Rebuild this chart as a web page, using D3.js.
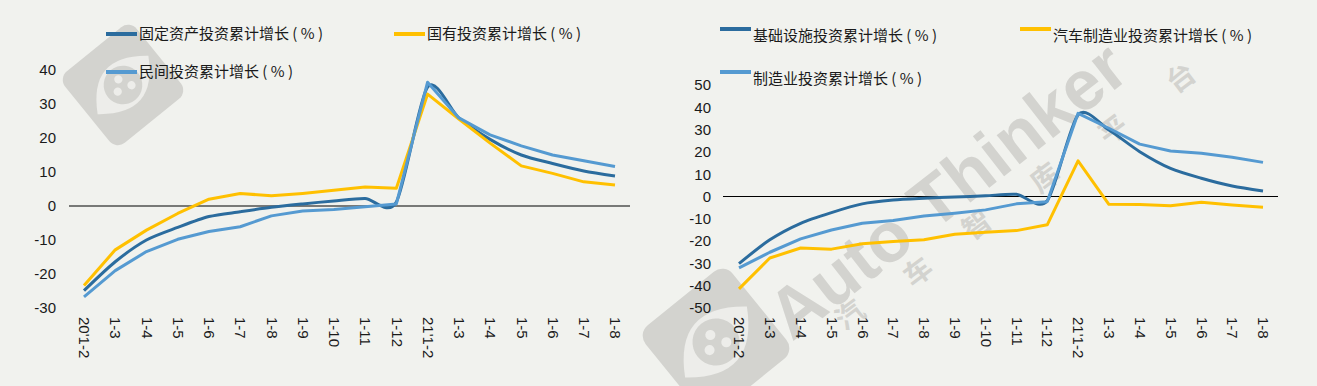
<!DOCTYPE html>
<head>
  <meta charset="utf-8">
  <script src="https://d3js.org/d3.v7.min.js"></script>
  <style>
    body { margin:0; background:#f1f2ee; }
    svg { display:block; }
    .tick-label { font-family: "Liberation Sans", Arial, sans-serif; font-size: 15px; fill: #1a1a1a; }
    .legend-label { font-family: "Noto Sans CJK SC", sans-serif; font-size: 15px; fill: #1a1a1a; white-space: pre; }
    .wm { fill: #d3d3cf; }
  </style>
</head>
<body>
  <div class="chart"></div>

  <script>
    const width = 1317;
    const height = 386;

    // x categories shared by both panels
    const categories = ["20'1-2", '1-3', '1-4', '1-5', '1-6', '1-7', '1-8', '1-9', '1-10', '1-11', '1-12',
                        "21'1-2", '1-3', '1-4', '1-5', '1-6', '1-7', '1-8'];

    // left panel
    const fixedAsset = [-24.9, -16.4, -10.0, -6.3, -3.1, -1.7, -0.4, 0.6, 1.5, 2.2, 1.2,
                        35.0, 25.9, 19.6, 15.0, 12.5, 10.3, 8.8];
    const stateOwned = [-23.4, -12.9, -7.1, -2.2, 2.0, 3.7, 3.0, 3.7, 4.6, 5.6, 5.2,
                        32.9, 25.6, 18.5, 11.8, 9.6, 7.1, 6.2];
    const privateInv = [-26.7, -19.0, -13.4, -9.8, -7.5, -6.1, -2.9, -1.5, -1.0, -0.2, 0.6,
                        36.4, 25.9, 20.9, 17.7, 15.0, 13.3, 11.6];
    const leftTicks = [-30, -20, -10, 0, 10, 20, 30, 40];

    // right panel
    const infra = [-30.1, -19.4, -12.0, -7.2, -3.3, -1.6, -0.8, -0.2, 0.3, 1.0, -1.9,
                   36.6, 29.8, 20.1, 12.6, 8.2, 4.7, 2.5];
    const autoMfg = [-41.4, -27.6, -23.1, -23.6, -21.2, -20.2, -19.4, -16.9, -16.0, -15.3, -12.7,
                     16.0, -3.5, -3.6, -4.1, -2.6, -3.8, -4.8];
    const mfg = [-32.0, -25.0, -19.0, -15.0, -12.0, -10.8, -8.7, -7.5, -6.0, -3.3, -2.3,
                 37.3, 30.6, 23.5, 20.4, 19.4, 17.6, 15.3];
    const rightTicks = [-50, -40, -30, -20, -10, 0, 10, 20, 30, 40, 50];

    const darkBlue = '#2b6c9e';
    const lightBlue = '#559ad1';
    const yellow = '#ffc000';

    const svg = d3.select('.chart')
      .append('svg')
        .attr('width', width)
        .attr('height', height);

    // ---- watermark (behind everything) ----
    const wm = svg.append('g');

    function logo(cx, cy, size) {
      const g = wm.append('g')
        .attr('transform', `translate(${cx},${cy}) rotate(-39)`);
      g.append('rect')
        .attr('class', 'wm')
        .attr('x', -size / 2).attr('y', -size / 2)
        .attr('width', size).attr('height', size)
        .attr('rx', size * 0.12);
      g.append('path')
        .attr('d', `M${-size * 0.42},0 Q0,${-size * 0.5} ${size * 0.42},0 Q0,${size * 0.5} ${-size * 0.42},0Z`)
        .attr('fill', '#ededea')
        .attr('transform', 'rotate(-10)');
      g.append('circle').attr('class', 'wm').attr('r', size * 0.21);
      [[-0.09, 0.02], [0.07, 0.06], [0.0, -0.08]].forEach(p => {
        g.append('circle')
          .attr('cx', p[0] * size).attr('cy', p[1] * size)
          .attr('r', size * 0.045).attr('fill', '#ededea');
      });
    }
    logo(123, 85, 92);
    logo(716, 342, 112);

    wm.append('text')
      .attr('class', 'wm')
      .attr('transform', 'translate(792,342) rotate(-38)')
      .style('font-family', '"Liberation Sans", Arial, sans-serif')
      .style('font-weight', 'bold')
      .style('font-size', '70px')
      .text('Auto Thinker');

    const wmChars = [['汽', 850, 315], ['车', 918, 272], ['智', 977, 225], ['库', 1045, 178], ['平', 1113, 130], ['台', 1181, 78]];
    wmChars.forEach(c => {
      wm.append('text')
        .attr('class', 'wm')
        .attr('transform', `translate(${c[1]},${c[2]}) rotate(-37)`)
        .attr('text-anchor', 'middle')
        .attr('dy', '0.35em')
        .style('font-family', '"Noto Sans CJK SC", sans-serif')
        .style('font-weight', 'bold')
        .style('font-size', '28px')
        .text(c[0]);
    });

    // ---- panels ----
    function drawPanel(cfg) {
      const g = svg.append('g');
      const idx = categories.map((d, i) => i);

      const x = d3.scalePoint()
        .domain(idx)
        .range(cfg.xRange);

      const y = d3.scaleLinear()
        .domain(cfg.yDomain)
        .range(cfg.yRange);

      // y tick labels, no axis line, plain hyphen minus
      const yAxis = d3.axisLeft(y)
        .tickValues(cfg.ticks)
        .tickSize(0)
        .tickPadding(0)
        .tickFormat(d => String(d));
      const yg = g.append('g')
        .attr('transform', `translate(${cfg.yLabelX},0)`)
        .call(yAxis);
      yg.select('.domain').remove();
      yg.selectAll('text').attr('class', 'tick-label').attr('fill', null);

      // category labels, rotated
      const xAxis = d3.axisBottom(x)
        .tickSize(0)
        .tickPadding(0)
        .tickFormat(i => categories[i]);
      const xg = g.append('g')
        .attr('transform', `translate(0,${cfg.xLabelY})`)
        .call(xAxis);
      xg.select('.domain').remove();
      xg.selectAll('text')
        .attr('class', 'tick-label')
        .attr('fill', null)
        .attr('y', 0)
        .attr('dy', '0.35em')
        .attr('transform', 'rotate(90)')
        .style('text-anchor', 'start');

      // zero line
      g.append('line')
        .attr('x1', cfg.zeroX[0]).attr('x2', cfg.zeroX[1])
        .attr('y1', y(0)).attr('y2', y(0))
        .attr('stroke', '#000')
        .attr('stroke-width', 1.2);

      cfg.series.forEach(s => {
        const line = d3.line()
          .x((d, i) => x(i))
          .y(d => y(d))
          .curve(s.smooth ? d3.curveCardinal.tension(0.2) : d3.curveLinear);
        g.append('path')
          .datum(s.values)
          .attr('fill', 'none')
          .attr('stroke', s.color)
          .attr('stroke-width', 3)
          .attr('stroke-linejoin', 'round')
          .attr('d', line);
      });

      // legend
      cfg.series.forEach(s => {
        const lg = g.append('g');
        lg.append('line')
          .attr('x1', s.legend[0]).attr('x2', s.legend[0] + 31)
          .attr('y1', s.legend[1]).attr('y2', s.legend[1])
          .attr('stroke', s.color)
          .attr('stroke-width', 4);
        lg.append('text')
          .attr('class', 'legend-label')
          .attr('x', s.legend[0] + 33)
          .attr('y', s.legend[1] + cfg.legendTextOffset)
          .attr('dy', '0.35em')
          .text(s.name + ' ( % )');
      });
    }

    drawPanel({
      xRange: [84, 615],
      yDomain: [-30, 40],
      yRange: [308, 70],
      ticks: leftTicks,
      yLabelX: 56,
      xLabelY: 317,
      zeroX: [69, 630],
      legendTextOffset: 0,
      series: [
        { name: '固定资产投资累计增长', values: fixedAsset, color: darkBlue, smooth: true, legend: [106, 34] },
        { name: '国有投资累计增长', values: stateOwned, color: yellow, smooth: false, legend: [394, 34] },
        { name: '民间投资累计增长', values: privateInv, color: lightBlue, smooth: false, legend: [106, 72] }
      ]
    });

    drawPanel({
      xRange: [739, 1263],
      yDomain: [-50, 50],
      yRange: [308, 85],
      ticks: rightTicks,
      yLabelX: 711,
      xLabelY: 317,
      zeroX: [723, 1278],
      legendTextOffset: 7,
      series: [
        { name: '基础设施投资累计增长', values: infra, color: darkBlue, smooth: true, legend: [720, 29] },
        { name: '汽车制造业投资累计增长', values: autoMfg, color: yellow, smooth: false, legend: [1020, 29] },
        { name: '制造业投资累计增长', values: mfg, color: lightBlue, smooth: false, legend: [720, 72] }
      ]
    });
  </script>
</body>
